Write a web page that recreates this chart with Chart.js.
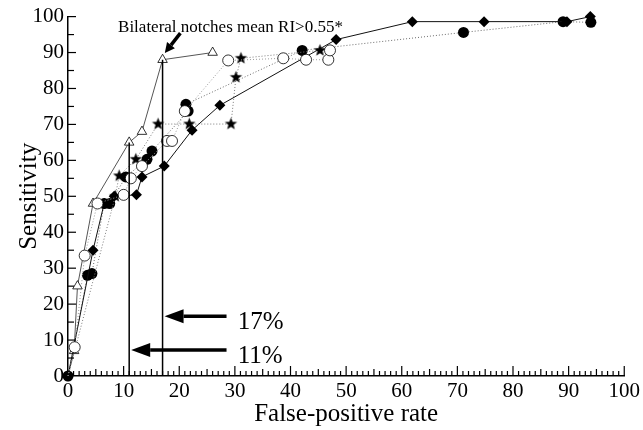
<!DOCTYPE html>
<html>
<head>
<meta charset="utf-8">
<script src="https://cdn.jsdelivr.net/npm/chart.js@4"></script>
<style>
  html, body { margin: 0; padding: 0; background: #fff; }
  #wrap { width: 643px; height: 430px; }
</style>
</head>
<body>
<div id="wrap"><canvas id="roc" width="643" height="430"></canvas></div>
<script>
// ROC curves, false-positive rate (%) vs sensitivity (%)
const xTicks = [0, 10, 20, 30, 40, 50, 60, 70, 80, 90, 100];
const yTicks = [0, 10, 20, 30, 40, 50, 60, 70, 80, 90, 100];

// open triangles (bilateral notches mean RI)
const triFpr  = [0, 1.1, 1.7, 4.5, 11, 13.3, 17, 26];
const triSens = [0, 7, 25, 48, 65, 68, 88, 90];

// filled diamonds
const diaFpr  = [0, 4.5, 6.5, 8.3, 12.3, 13.3, 17.3, 22.3, 27.3, 48.2, 61.9, 74.8, 89.7, 93.9];
const diaSens = [0, 35, 48, 50, 50.4, 55.4, 58.4, 68.4, 75.3, 93.6, 98.6, 98.6, 98.6, 100];

// filled circles
const dotFpr  = [0, 3.5, 4.3, 6.5, 7.5, 10.4, 14.2, 15.1, 21.6, 21.2, 42.1, 71.1, 89, 94];
const dotSens = [0, 28, 28.5, 48, 48, 55.4, 60.3, 62.6, 73.7, 75.6, 90.6, 95.6, 98.6, 98.4];

// open circles
const ringFpr  = [0, 1.2, 3, 5.3, 10, 11.3, 13.3, 17.8, 18.7, 21, 28.8, 38.7, 42.8, 46.8, 47.1];
const ringSens = [0, 8, 33.5, 48, 50.4, 55, 58.4, 65.4, 65.4, 73.7, 87.8, 88.4, 88, 88, 90.6];

// stars
const starFpr  = [0, 8.5, 9.2, 12.2, 16.2, 21.8, 29.3, 30.2, 31.1, 45.3];
const starSens = [0, 50, 55.7, 60.3, 70.1, 70.1, 70.1, 83.1, 88.4, 90.6];

// cut-off markers
const cutLabels = ["11%", "17%"];
const cutFpr    = [11, 17];
const cutSens   = [65, 88];
const cutArrowY = [7.2, 16.6];

const noteText = "Bilateral notches mean RI>0.55*";

const SERIF = "'Liberation Serif', 'DejaVu Serif', serif";

function pts(xs, ys) {
  return xs.map((x, i) => ({ x: x, y: ys[i] }));
}

// hide the marker at the origin for open symbols, the filled one shows there
function skipOrigin(r) {
  return c => (c.dataIndex === 0 ? 0 : r);
}

// filled five-point star marker
function makeStar(r) {
  const c = document.createElement("canvas");
  c.width = c.height = r * 2 + 2;
  const g = c.getContext("2d");
  g.translate(r + 1, r + 1);
  g.beginPath();
  for (let i = 0; i < 10; i++) {
    const rr = i % 2 === 0 ? r : r * 0.42;
    const a = -Math.PI / 2 + i * Math.PI / 5;
    g.lineTo(Math.cos(a) * rr, Math.sin(a) * rr);
  }
  g.closePath();
  g.fillStyle = "#000";
  g.fill();
  return c;
}
const starImg = makeStar(6.5);

function arrow(ctx, x1, y1, x2, y2, w, headLen, headW) {
  const a = Math.atan2(y2 - y1, x2 - x1);
  const bx = x2 - Math.cos(a) * headLen;
  const by = y2 - Math.sin(a) * headLen;
  ctx.save();
  ctx.strokeStyle = "#000";
  ctx.fillStyle = "#000";
  ctx.lineWidth = w;
  ctx.beginPath();
  ctx.moveTo(x1, y1);
  ctx.lineTo(bx, by);
  ctx.stroke();
  ctx.beginPath();
  ctx.moveTo(x2, y2);
  ctx.lineTo(bx + Math.sin(a) * headW, by - Math.cos(a) * headW);
  ctx.lineTo(bx - Math.sin(a) * headW, by + Math.cos(a) * headW);
  ctx.closePath();
  ctx.fill();
  ctx.restore();
}

const decorations = {
  id: "decorations",
  afterDraw(chart) {
    const ctx = chart.ctx;
    const xs = chart.scales.x, ys = chart.scales.y;
    const x0 = xs.getPixelForValue(0), y0 = ys.getPixelForValue(0);
    ctx.save();
    ctx.setLineDash([]);
    ctx.strokeStyle = "#000";
    ctx.lineWidth = 1.2;
    // inward minor ticks on the x axis
    for (let v = 1; v <= 100; v++) {
      const px = xs.getPixelForValue(v);
      const len = v % 10 === 0 ? 10 : (v % 5 === 0 ? 7 : 5);
      ctx.beginPath();
      ctx.moveTo(px, y0);
      ctx.lineTo(px, y0 - len);
      ctx.stroke();
    }
    // inward ticks on the y axis
    for (let v = 5; v <= 100; v += 5) {
      const py = ys.getPixelForValue(v);
      const len = v % 10 === 0 ? 8 : 6;
      ctx.beginPath();
      ctx.moveTo(x0, py);
      ctx.lineTo(x0 + len, py);
      ctx.stroke();
    }
    // cut-off arrows and labels
    ctx.font = "25px " + SERIF;
    ctx.fillStyle = "#000";
    ctx.textBaseline = "middle";
    cutLabels.forEach((lab, i) => {
      const py = ys.getPixelForValue(cutArrowY[i]);
      const tip = xs.getPixelForValue(cutFpr[i]) + 2;
      const tail = xs.getPixelForValue(28.5);
      arrow(ctx, tail, py, tip, py, 3.5, 19, 7);
      ctx.fillText(lab, xs.getPixelForValue(30.5), py + 6);
    });
    // top note with its arrow
    ctx.font = "17px " + SERIF;
    ctx.textBaseline = "alphabetic";
    ctx.fillText(noteText, xs.getPixelForValue(9), ys.getPixelForValue(95.8));
    arrow(ctx, xs.getPixelForValue(20.2), ys.getPixelForValue(95.4),
          xs.getPixelForValue(17.4), ys.getPixelForValue(89.9), 3.5, 10, 5);
    ctx.restore();
  }
};

new Chart(document.getElementById("roc"), {
  type: "scatter",
  data: {
    datasets: [
      {
        label: "cut 11",
        data: pts([cutFpr[0], cutFpr[0]], [0, cutSens[0]]),
        showLine: true, borderColor: "#000", borderWidth: 1.5, pointRadius: 0
      },
      {
        label: "cut 17",
        data: pts([cutFpr[1], cutFpr[1]], [0, cutSens[1]]),
        showLine: true, borderColor: "#000", borderWidth: 1.5, pointRadius: 0
      },
      {
        label: "open circles",
        data: pts(ringFpr, ringSens),
        showLine: true, borderColor: "#9a9a9a", borderWidth: 1, borderDash: [1, 2],
        pointStyle: "circle", pointRadius: skipOrigin(5.5), pointBackgroundColor: "#fff",
        pointBorderColor: "#000", pointBorderWidth: 0.8
      },
      {
        label: "stars",
        data: pts(starFpr, starSens),
        showLine: true, borderColor: "#7a7a7a", borderWidth: 1, borderDash: [1, 2],
        pointStyle: starImg, pointRadius: skipOrigin(6.5)
      },
      {
        label: "diamonds",
        data: pts(diaFpr, diaSens),
        showLine: true, borderColor: "#111", borderWidth: 1,
        pointStyle: "rectRot", pointRadius: 5.5, pointBackgroundColor: "#000",
        pointBorderColor: "#000", pointBorderWidth: 0
      },
      {
        label: "filled circles",
        data: pts(dotFpr, dotSens),
        showLine: true, borderColor: "#6a6a6a", borderWidth: 1, borderDash: [1, 2],
        pointStyle: "circle", pointRadius: 5.5, pointBackgroundColor: "#000",
        pointBorderColor: "#000", pointBorderWidth: 0
      },
      {
        label: "triangles",
        data: pts(triFpr, triSens),
        showLine: true, borderColor: "#555", borderWidth: 1,
        pointStyle: "triangle", pointRadius: skipOrigin(5.5), pointBackgroundColor: "#fff",
        pointBorderColor: "#000", pointBorderWidth: 0.8
      }
    ]
  },
  options: {
    responsive: false,
    animation: false,
    clip: false,
    layout: { padding: { top: 16, right: 18, left: 0, bottom: 0 } },
    plugins: { legend: { display: false }, tooltip: { enabled: false } },
    scales: {
      x: {
        type: "linear", min: 0, max: 100,
        afterFit: s => { s.height = 54; },
        afterBuildTicks: s => { s.ticks = xTicks.map(v => ({ value: v })); },
        grid: { display: false, drawTicks: false },
        border: { display: true, color: "#000", width: 1.5 },
        ticks: { color: "#000", padding: 3, font: { family: SERIF, size: 21 } },
        title: {
          display: true, text: "False-positive rate", color: "#000",
          font: { family: SERIF, size: 25 }, padding: { top: 0, bottom: 1 }
        }
      },
      y: {
        type: "linear", min: 0, max: 100,
        afterFit: s => { s.width = 68; },
        afterBuildTicks: s => { s.ticks = yTicks.map(v => ({ value: v })); },
        grid: { display: false, drawTicks: false },
        border: { display: true, color: "#000", width: 1.5 },
        ticks: { color: "#000", padding: 4, font: { family: SERIF, size: 21 } },
        title: {
          display: true, text: "Sensitivity", color: "#000",
          font: { family: SERIF, size: 25 }, padding: { top: 14, bottom: 0 }
        }
      }
    }
  },
  plugins: [decorations]
});
</script>
</body>
</html>
